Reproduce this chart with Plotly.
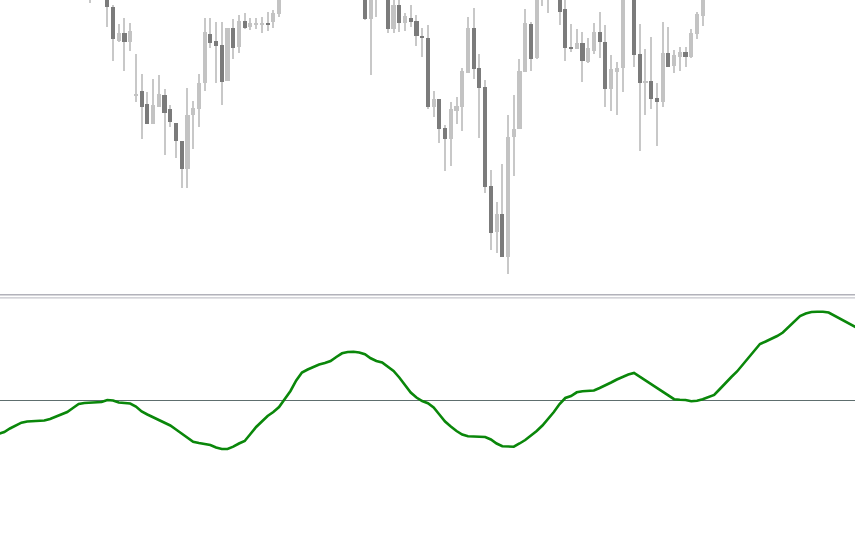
import plotly.graph_objects as go

# ---- candle data (index, open, high, low, close) ----
candle_idx = list(range(15, 123))
opens = [310, 325, 305, 312, 293.3, 259, 267.3, 257.7, 204.7, 209,
         196, 176, 193.3, 204.7, 191, 177.3, 159, 130.7, 184.7, 191,
         216.7, 266.3, 259, 255, 219, 272, 253.3, 278.7, 272.7, 275,
         274.7, 277.3, 277.7, 286, 306, 315, 328, 340, 335, 355,
         345, 365, 360, 380, 365, 355, 340, 345, 320, 281,
         305, 320, 308, 271, 295, 276.7, 281.7, 278.7, 263.3, 262,
         193.3, 201, 172, 160.7, 189, 193.3, 227.3, 272, 231.7, 213.3,
         114.3, 68.3, 86, 42.7, 163.3, 170.7, 227.7, 276, 241.7, 305,
         315, 305, 318, 290.7, 253, 251, 257.3, 238.3, 249, 268.3,
         258.3, 210.7, 227.7, 231.7, 308, 320, 246, 216.7, 219, 201.7,
         197.7, 247.3, 234, 243.3, 248.3, 243.3, 265.7, 284]
highs = [332, 330, 322, 316, 295, 276, 281.7, 277.3, 246, 226,
         208.3, 220.7, 225, 210.7, 194.7, 177.3, 159, 211.7, 199, 226,
         281.7, 281.7, 278.3, 278.3, 272, 280.7, 285, 287.3, 281.7, 281.7,
         283.3, 288.3, 290, 310, 320, 330, 345, 350, 360, 365,
         370, 380, 385, 390, 375, 370, 355, 355, 325, 315,
         325, 328, 312, 303, 302, 286.7, 295, 285, 271.7, 275,
         209, 201, 175.3, 198.3, 202.7, 231.7, 283.3, 291.7, 246, 220,
         130, 98.3, 136, 185, 205, 240.7, 290.7, 278.3, 310, 322,
         325, 325, 322, 303, 276, 270.7, 268.3, 261.7, 277.3, 288.3,
         275, 245, 238.3, 312, 330, 325, 276, 250.7, 263.3, 216.7,
         278.3, 273.3, 250, 253.3, 252.7, 270.7, 288.3, 315]
lows = [297.3, 302, 301, 273.3, 239, 258, 229, 249, 198.3, 161,
        176, 176, 193.3, 145, 173.3, 141.7, 112.3, 112.3, 151, 173.3,
        209, 252, 216.7, 195, 219, 241, 246.7, 270.7, 270, 270.7,
        267.3, 269.3, 272.5, 283, 302, 310, 320, 330, 330, 340,
        340, 355, 355, 360, 350, 335, 315, 310, 280, 225,
        283.3, 303, 266.7, 266.7, 267.7, 269, 273.3, 254, 242.7, 191,
        182.7, 157.3, 129, 134, 176, 169, 227.3, 220.7, 162.3, 106.7,
        50, 46.7, 42.7, 26, 124, 170.7, 227.7, 229, 240.7, 294,
        286.7, 302, 275, 239, 247.7, 251, 217.7, 236.7, 245.7, 242.3,
        193.3, 189, 185, 208.3, 303, 233.3, 149, 185, 190.7, 154.3,
        192.7, 233.3, 226.7, 229, 233.3, 241.7, 260.7, 274]
closes = [325, 305, 315, 292.7, 261, 267.3, 257.7, 268.7, 205.7, 193.3,
          176, 194.7, 206, 187.3, 177.7, 159, 130.7, 184.7, 192.3, 217.3,
          267.7, 257.3, 254, 217.7, 272, 252.3, 279.3, 272.3, 277.3, 276.5,
          277.3, 275, 286.7, 306, 315, 328, 340, 335, 355, 345,
          365, 360, 380, 365, 355, 340, 345, 320, 281, 310,
          320, 308, 271, 295, 276.7, 284, 277.7, 264, 262.3, 193.3,
          201, 171, 160.7, 190.7, 194.3, 229.3, 272, 230.7, 212.3, 113.3,
          67.3, 86, 42.7, 163.3, 170.7, 229, 277.3, 241, 305, 315,
          305, 318, 287.7, 252.3, 251, 257.3, 239, 251.7, 268.3, 257.7,
          210.7, 230.7, 231.7, 308, 320, 245, 216.7, 219, 201, 197.7,
          247.3, 233.3, 245, 248.3, 243.3, 266.7, 286, 310]

# ---- oscillator data (index, value) ----
osc_idx = list(range(-1, 150))
osc_vals = [-33.5, -31.5, -28, -25, -22.2, -21, -20.8, -20.5, -20, -18.5,
            -16.2, -14, -11.5, -7.5, -3.5, -2.5, -2.2, -2.2, -1.5, 0.5,
            0, -2, -2.2, -3, -6, -11, -14, -16.7, -19.2, -21.8,
            -25, -29, -33.3, -37.5, -41.2, -42.5, -43.2, -44.5, -47, -48.5,
            -48.5, -46.2, -43, -40.5, -33.5, -26.5, -21, -15.5, -11.5, -6.5,
            1.5, 9.5, 20, 28, 31, 33.5, 36, 37.5, 39.5, 43.5,
            47.2, 48.5, 48.8, 48, 46.2, 42.2, 39.5, 38, 34, 29.5,
            23, 15.5, 8, 3, -0.5, -2.7, -7, -14, -21, -26,
            -30.5, -34, -35.8, -36, -36, -36.5, -39, -43, -45.7, -46,
            -46.2, -43, -39.5, -35, -30.5, -25, -18.5, -11.5, -3.5, 2.5,
            4.5, 8.2, 9.3, 9.5, 10, 12.5, 15, 18, 21, 23.8,
            26, 27.5, 23.7, 19.5, 16, 12, 8, 4.5, 1.3, 0.8,
            0.5, -0.8, -0.2, 1.2, 3, 5.5, 11.5, 18, 23.5, 29,
            36, 42, 49.5, 56.5, 59, 61.5, 64.5, 68, 73.5, 79.5,
            84.5, 87, 88.5, 88.8, 88.8, 88, 85, 81.5, 78.5, 75.8,
            72.5]

BULL = "#c3c3c3"
BEAR = "#7b7b7b"
WICK = "#c8c8c8"

bull_x, bull_base, bull_h = [], [], []
bear_x, bear_base, bear_h = [], [], []
for k, o, c in zip(candle_idx, opens, closes):
    lo, hi = min(o, c), max(o, c)
    h = max(hi - lo, 1.0)
    if c >= o:
        bull_x.append(k); bull_base.append(lo); bull_h.append(h)
    else:
        bear_x.append(k); bear_base.append(lo); bear_h.append(h)

fig = go.Figure()
fig.add_trace(go.Bar(x=candle_idx, y=[h - l for h, l in zip(highs, lows)], base=lows,
                     width=0.18, marker=dict(color=WICK, line=dict(width=0)),
                     xaxis="x", yaxis="y", hoverinfo="skip"))
fig.add_trace(go.Bar(x=bull_x, y=bull_h, base=bull_base, width=0.72,
                     marker=dict(color=BULL, line=dict(width=0)),
                     xaxis="x", yaxis="y"))
fig.add_trace(go.Bar(x=bear_x, y=bear_h, base=bear_base, width=0.72,
                     marker=dict(color=BEAR, line=dict(width=0)),
                     xaxis="x", yaxis="y"))
fig.add_trace(go.Scatter(x=osc_idx, y=osc_vals, mode="lines",
                         line=dict(color="#0a870a", width=2.6),
                         xaxis="x2", yaxis="y2"))

xr = [-0.742, 148.6]
ax_common = dict(showgrid=False, zeroline=False, showticklabels=False,
                 ticks="", showline=False, fixedrange=True)
fig.update_layout(
    width=855, height=534,
    margin=dict(l=0, r=0, t=0, b=0),
    paper_bgcolor="white", plot_bgcolor="white",
    showlegend=False, barmode="overlay", bargap=0,
    xaxis=dict(domain=[0, 1], range=xr, anchor="y", **ax_common),
    yaxis=dict(domain=[0.4494, 1], range=[6, 300], anchor="x", **ax_common),
    xaxis2=dict(domain=[0, 1], range=xr, anchor="y2", **ax_common),
    yaxis2=dict(domain=[0, 0.4401], range=[-133.5, 101.5], anchor="x2", **ax_common),
    shapes=[
        dict(type="line", xref="paper", yref="y2", x0=0, x1=1, y0=0, y1=0,
             line=dict(color="#5e6e6e", width=1.2), layer="below"),
        dict(type="line", xref="paper", yref="paper", x0=0, x1=1,
             y0=1 - 294.7 / 534, y1=1 - 294.7 / 534,
             line=dict(color="#b2b2ba", width=1.6)),
        dict(type="line", xref="paper", yref="paper", x0=0, x1=1,
             y0=1 - 297.8 / 534, y1=1 - 297.8 / 534,
             line=dict(color="#c6c6cc", width=1.2)),
    ],
)

fig.write_html("out.html", config={"displayModeBar": False},
               post_script="document.body.style.margin='0';document.body.style.overflow='hidden';")
